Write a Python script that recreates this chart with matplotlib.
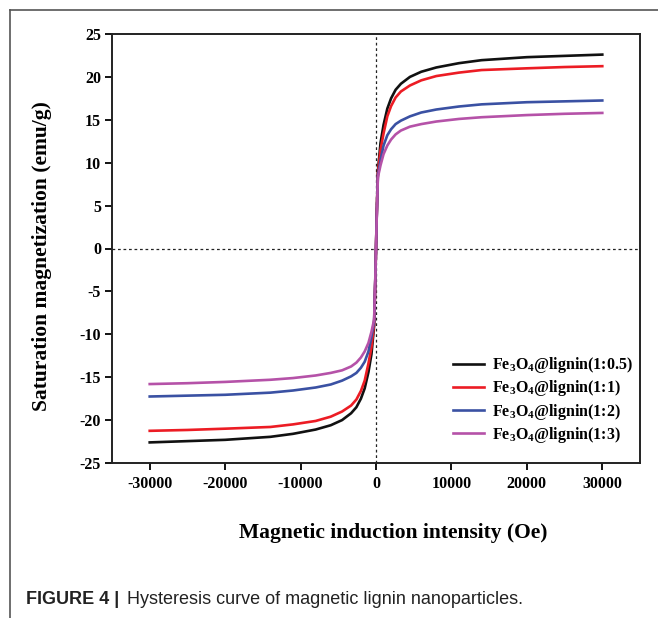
import matplotlib
matplotlib.use("Agg")
import matplotlib.pyplot as plt
from matplotlib.lines import Line2D

plt.rcParams['font.family'] = ['Liberation Serif', 'DejaVu Serif']
plt.rcParams['font.weight'] = 'bold'
plt.rcParams['mathtext.fontset'] = 'custom'
plt.rcParams['mathtext.rm'] = 'Liberation Serif:bold'
plt.rcParams['mathtext.bf'] = 'Liberation Serif:bold'
plt.rcParams['mathtext.it'] = 'Liberation Serif:bold'

# Field (Oe)
field = [-30000, -25000, -20000, -14000, -11000, -8000, -6000, -4500, -3300, -2600, -2000, -1500,
         -1000, -600, -250, -100, 0,
         100, 250, 600, 1000, 1500, 2000, 2600, 3300, 4500, 6000, 8000, 11000, 14000, 20000,
         25000, 30000]

m_05 = [-22.6, -22.45, -22.3, -21.95, -21.6, -21.1, -20.6, -20.0, -19.2, -18.5, -17.5, -16.3,
        -14.4, -12.3, -9.0, -4.0, 0.0,
        4.0, 9.0, 12.3, 14.4, 16.3, 17.5, 18.5, 19.2, 20.0, 20.6, 21.1, 21.6, 21.95, 22.3,
        22.45, 22.6]
m_1 = [-21.25, -21.15, -21.0, -20.8, -20.5, -20.1, -19.6, -19.0, -18.3, -17.6, -16.6, -15.4,
       -13.4, -11.5, -8.8, -4.0, 0.0,
       4.0, 8.8, 11.5, 13.4, 15.4, 16.6, 17.6, 18.3, 19.0, 19.6, 20.1, 20.5, 20.8, 21.0,
       21.15, 21.25]
m_2 = [-17.25, -17.15, -17.05, -16.8, -16.55, -16.2, -15.85, -15.4, -14.9, -14.5, -13.9, -13.2,
       -12.0, -10.3, -8.5, -3.8, 0.0,
       3.8, 8.5, 10.3, 12.0, 13.2, 13.9, 14.5, 14.9, 15.4, 15.85, 16.2, 16.55, 16.8, 17.05,
       17.15, 17.25]
m_3 = [-15.8, -15.7, -15.55, -15.3, -15.1, -14.8, -14.5, -14.2, -13.75, -13.3, -12.7, -12.0,
       -11.0, -9.7, -8.3, -3.7, 0.0,
       3.7, 8.3, 9.7, 11.0, 12.0, 12.7, 13.3, 13.75, 14.2, 14.5, 14.8, 15.1, 15.3, 15.55,
       15.7, 15.8]

labels = [r'Fe$_3$O$_4$@lignin(1:0.5)', r'Fe$_3$O$_4$@lignin(1:1)',
          r'Fe$_3$O$_4$@lignin(1:2)', r'Fe$_3$O$_4$@lignin(1:3)']
colors = ['#111111', '#ec1c24', '#3a51a3', '#b552a8']
series = [m_05, m_1, m_2, m_3]

x_ticks = [-30000, -20000, -10000, 0, 10000, 20000, 30000]
y_ticks = [25, 20, 15, 10, 5, 0, -5, -10, -15, -20, -25]

W, H = 658, 618
fig = plt.figure(figsize=(W / 100, H / 100), dpi=100)
ax = fig.add_axes([112 / W, 1 - 463 / H, (640 - 112) / W, (463 - 34) / H])

ax.axvline(0, color='#222222', lw=0.9, ls=(0, (2.2, 2.2)), zorder=1)
ax.axhline(0, color='#222222', lw=0.9, ls=(0, (2.2, 2.2)), zorder=1)

for m, c, lab in zip(series, colors, labels):
    ax.plot(field, m, color=c, lw=1.9, label=lab, zorder=3, solid_joinstyle='round')

ax.set_xlim(-35000, 35000)
ax.set_ylim(-25, 25)
ax.set_xticks(x_ticks)
ax.set_xticklabels([str(v) for v in x_ticks])
ax.set_yticks(y_ticks)
ax.set_yticklabels([str(v) for v in y_ticks])
ax.tick_params(direction='out', length=5, width=1.3, labelsize=11.5)
ax.tick_params(axis='x', pad=4.5)
ax.tick_params(axis='y', pad=3)
for lab in ax.get_xticklabels() + ax.get_yticklabels():
    lab.set_fontweight('bold')
for s in ax.spines.values():
    s.set_linewidth(1.4)
    s.set_color('#222222')

fig.text(42 / W, 1 - 256 / H, 'Saturation magnetization (emu/g)', fontsize=15.5,
         fontweight='bold', rotation=90, ha='center', va='center')
fig.text(393 / W, 1 - 533 / H, 'Magnetic induction intensity (Oe)', fontsize=15.5,
         fontweight='bold', ha='center', va='center')

leg = ax.legend(loc='upper left', bbox_to_anchor=(0.633, 0.266), frameon=False,
                fontsize=11.5, handlelength=1.95, labelspacing=0.2, handletextpad=0.5,
                borderaxespad=0)

# frame of the figure panel
fig.add_artist(Line2D([10 / W, 1], [1 - 10 / H, 1 - 10 / H], color='#555555', lw=1.2,
                      transform=fig.transFigure))
fig.add_artist(Line2D([10 / W, 10 / W], [0, 1 - 10 / H], color='#555555', lw=1.2,
                      transform=fig.transFigure))

cap_y = 1 - 599 / H
fig.text(26 / W, cap_y, 'FIGURE 4 |', fontsize=13, fontweight='bold',
         family=['Liberation Sans', 'DejaVu Sans'], va='center', ha='left', color='#222222')
fig.text(127 / W, cap_y, 'Hysteresis curve of magnetic lignin nanoparticles.', fontsize=13,
         fontweight='normal', family=['Liberation Sans', 'DejaVu Sans'], va='center', ha='left',
         color='#222222')

fig.savefig('out.png', dpi=100)
